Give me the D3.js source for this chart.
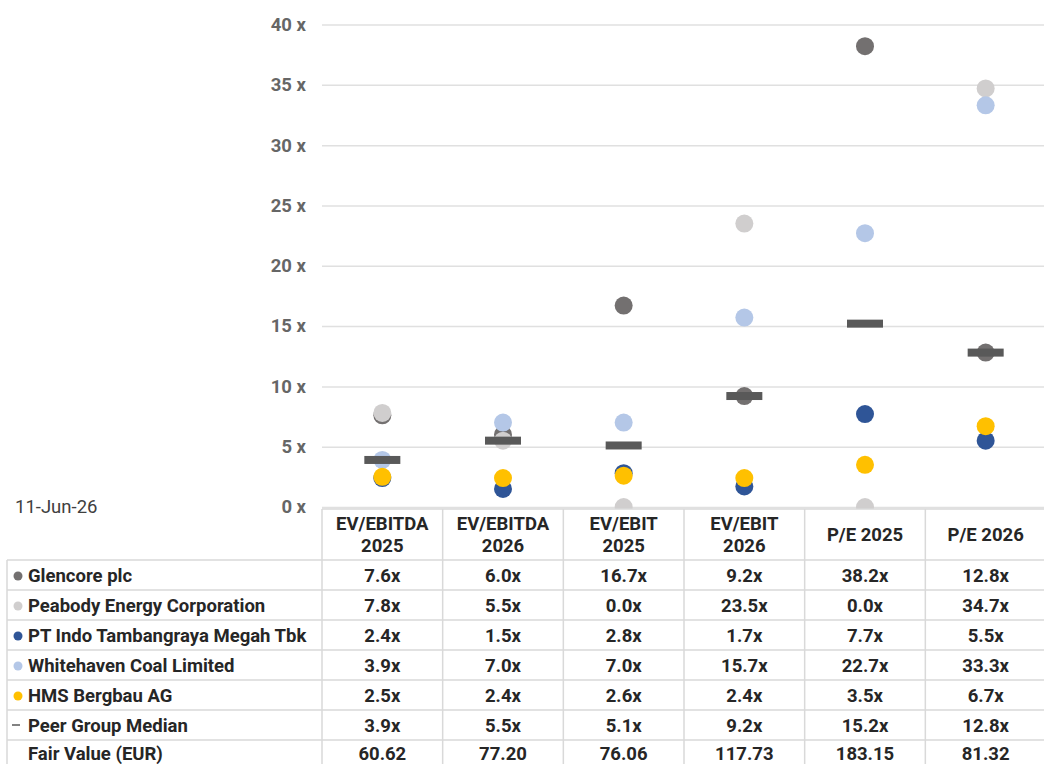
<!DOCTYPE html>
<html>
<head>
<meta charset="utf-8">
<script src="https://cdn.jsdelivr.net/npm/d3@7"></script>
<style>
  body { margin: 0; background: #fff; }
  svg { display: block; font-family: Roboto, "Noto Sans", sans-serif; }
</style>
</head>
<body>
<svg id="chart"></svg>
<script>
const categories = ["EV/EBITDA 2025", "EV/EBITDA 2026", "EV/EBIT 2025", "EV/EBIT 2026", "P/E 2025", "P/E 2026"];
const headerLines = [["EV/EBITDA", "2025"], ["EV/EBITDA", "2026"], ["EV/EBIT", "2025"], ["EV/EBIT", "2026"], ["P/E 2025"], ["P/E 2026"]];
const companies = ["Glencore plc", "Peabody Energy Corporation", "PT Indo Tambangraya Megah Tbk", "Whitehaven Coal Limited", "HMS Bergbau AG"];
const glencore = [7.6, 6.0, 16.7, 9.2, 38.2, 12.8];
const peabody = [7.8, 5.5, 0.0, 23.5, 0.0, 34.7];
const ptIndo = [2.4, 1.5, 2.8, 1.7, 7.7, 5.5];
const whitehaven = [3.9, 7.0, 7.0, 15.7, 22.7, 33.3];
const hms = [2.5, 2.4, 2.6, 2.4, 3.5, 6.7];
const median = [3.9, 5.5, 5.1, 9.2, 15.2, 12.8];
const fairValue = ["60.62", "77.20", "76.06", "117.73", "183.15", "81.32"];
const yTicks = [0, 5, 10, 15, 20, 25, 30, 35, 40];
const dateLabel = "11-Jun-26";

const series = [glencore, peabody, ptIndo, whitehaven, hms];
const colors = ["#737070", "#d0cece", "#2f5597", "#b4c7e7", "#ffc000"];
const medianColor = "#595959";
const textColor = "#262626";
const fontSize = 18.5;

const width = 1044, height = 764;
const svg = d3.select("#chart").attr("width", width).attr("height", height);

const plotLeft = 322, plotRight = 1046;
const x = d3.scaleBand().domain(categories).range([plotLeft, plotRight]);
const y = d3.scaleLinear().domain([0, 40]).range([507, 24.5]);

// grid + y axis
const yAxis = svg.append("g")
  .attr("transform", "translate(" + plotLeft + ",0)")
  .call(d3.axisLeft(y).tickValues(yTicks).tickSize(-(plotRight - plotLeft)).tickPadding(16)
    .tickFormat(d => d + " x"));
yAxis.select(".domain").remove();
yAxis.selectAll(".tick line").attr("stroke", "#e0e0e0").attr("stroke-width", 1.5);
yAxis.selectAll(".tick text")
  .attr("fill", "#666").attr("font-size", fontSize).attr("font-weight", "bold")
  .attr("font-family", "Roboto, sans-serif");

// points
series.forEach((vals, i) => {
  svg.append("g").selectAll("circle")
    .data(vals)
    .join("circle")
    .attr("cx", (d, j) => x(categories[j]) + x.bandwidth() / 2)
    .attr("cy", d => y(d))
    .attr("r", 9)
    .attr("fill", colors[i]);
});

// median markers
svg.append("g").selectAll("rect")
  .data(median)
  .join("rect")
  .attr("x", (d, j) => x(categories[j]) + x.bandwidth() / 2 - 18)
  .attr("y", d => y(d) - 4)
  .attr("width", 36)
  .attr("height", 8)
  .attr("fill", medianColor);

// table
const tableLeft = 7;
const headTop = 509, headBottom = 560, rowH = 30;
const rows = companies.map((c, i) => ({ label: c, color: colors[i], vals: series[i].map(v => v.toFixed(1) + "x"), type: "dot" }));
rows.push({ label: "Peer Group Median", vals: median.map(v => v.toFixed(1) + "x"), type: "dash" });
rows.push({ label: "Fair Value (EUR)", vals: fairValue, type: "none" });

const table = svg.append("g");
const lineColor = "#d9d9d9";

table.append("rect")
  .attr("x", plotLeft).attr("y", headTop)
  .attr("width", plotRight - plotLeft).attr("height", headBottom - headTop)
  .attr("fill", "#fff");
table.append("rect")
  .attr("x", tableLeft).attr("y", headBottom)
  .attr("width", plotRight - tableLeft).attr("height", rowH * rows.length)
  .attr("fill", "#fff");

// horizontal lines
table.append("line")
  .attr("x1", plotLeft).attr("x2", plotRight).attr("y1", headTop).attr("y2", headTop)
  .attr("stroke", lineColor).attr("stroke-width", 1.5);
d3.range(rows.length + 1).forEach(i => {
  table.append("line")
    .attr("x1", tableLeft).attr("x2", plotRight)
    .attr("y1", headBottom + i * rowH).attr("y2", headBottom + i * rowH)
    .attr("stroke", lineColor).attr("stroke-width", 1.5);
});
// vertical lines
table.append("line")
  .attr("x1", tableLeft).attr("x2", tableLeft).attr("y1", headBottom).attr("y2", headBottom + rowH * rows.length)
  .attr("stroke", lineColor).attr("stroke-width", 1.5);
categories.forEach(c => {
  table.append("line")
    .attr("x1", x(c)).attr("x2", x(c)).attr("y1", headTop).attr("y2", headBottom + rowH * rows.length)
    .attr("stroke", lineColor).attr("stroke-width", 1.5);
});

// header text
headerLines.forEach((lines, j) => {
  const cx = x(categories[j]) + x.bandwidth() / 2;
  const t = table.append("text")
    .attr("x", cx)
    .attr("text-anchor", "middle")
    .attr("font-size", fontSize).attr("font-weight", "bold").attr("fill", textColor);
  if (lines.length === 2) {
    t.append("tspan").attr("x", cx).attr("y", 530).text(lines[0]);
    t.append("tspan").attr("x", cx).attr("y", 552).text(lines[1]);
  } else {
    t.attr("y", 541).text(lines[0]);
  }
});

// rows
const labelMax = plotLeft - 28 - 4;
rows.forEach((r, i) => {
  const cy = headBottom + i * rowH + rowH / 2;
  // last row is cut by the page edge, lift its text a little
  const base = cy + (i === rows.length - 1 ? 4.5 : 6.5);
  if (r.type === "dot") {
    table.append("circle").attr("cx", 18).attr("cy", cy + 1).attr("r", 4.5).attr("fill", r.color);
  } else if (r.type === "dash") {
    table.append("line").attr("x1", 12).attr("x2", 20).attr("y1", cy).attr("y2", cy)
      .attr("stroke", medianColor).attr("stroke-width", 1.5);
  }
  const lbl = table.append("text")
    .attr("x", 28).attr("y", base)
    .attr("font-size", fontSize).attr("font-weight", "bold").attr("fill", textColor)
    .text(r.label);
  // squeeze labels that would run past the first column border
  if (lbl.node().getComputedTextLength() > labelMax) {
    lbl.attr("textLength", labelMax).attr("lengthAdjust", "spacingAndGlyphs");
  }
  r.vals.forEach((v, j) => {
    table.append("text")
      .attr("x", x(categories[j]) + x.bandwidth() / 2).attr("y", base)
      .attr("text-anchor", "middle")
      .attr("font-size", fontSize).attr("font-weight", "bold").attr("fill", textColor)
      .text(v);
  });
});

// date label
svg.append("text")
  .attr("x", 15).attr("y", 513)
  .attr("font-size", fontSize).attr("fill", "#404040")
  .text(dateLabel);
</script>
</body>
</html>
